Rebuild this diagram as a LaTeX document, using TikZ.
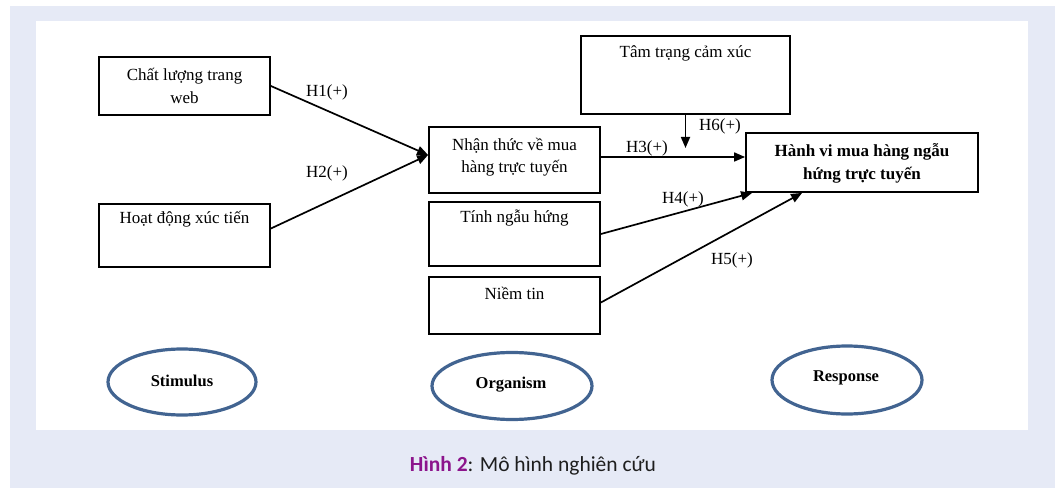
\documentclass[tikz,border=0pt]{standalone}
\usepackage{fontspec}
\setmainfont{Liberation Serif}
\newfontfamily\capfont{Carlito}
\usetikzlibrary{arrows.meta,shapes.geometric}
\definecolor{bgblue}{RGB}{230,234,246}
\definecolor{ellblue}{RGB}{66,100,145}
\definecolor{hpurple}{RGB}{140,20,140}
\definecolor{captxt}{RGB}{30,30,30}
\begin{document}
\begin{tikzpicture}[x=1pt,y=-1pt,
  box/.style={draw=black, line width=1.8pt, inner sep=0pt},
  txt/.style={font=\fontsize{17}{22.5}\selectfont, align=center, inner sep=0pt},
  btxt/.style={font=\fontsize{17}{23}\selectfont\bfseries, align=center, inner sep=0pt},
  lbl/.style={font=\fontsize{17}{20}\selectfont, inner sep=0pt},
  arr/.style={draw=black, line width=1.7pt, -{Triangle[length=11pt,width=9pt]}},
  ell/.style={ellipse, draw=ellblue, line width=3.2pt, inner sep=0pt},
  etxt/.style={font=\fontsize{16.5}{20}\selectfont\bfseries, inner sep=0pt}
]
\useasboundingbox (0,0) rectangle (1058,489);
\fill[white] (0,0) rectangle (1058,489);
\fill[bgblue] (10,6) rectangle (1055,488);
\fill[white] (36,21) rectangle (1028,430);

% boxes
\node[box, minimum width=171pt, minimum height=58pt] (cl) at (184.5,86) {};
\node[box, minimum width=171pt, minimum height=63pt] (hd) at (184.5,235.5) {};
\node[box, minimum width=171pt, minimum height=66pt] (nt) at (514.5,160) {};
\node[box, minimum width=171pt, minimum height=64pt] (tn) at (514.5,234) {};
\node[box, minimum width=171pt, minimum height=57pt] (nin) at (514.5,305.5) {};
\node[box, minimum width=209pt, minimum height=78pt] (tt) at (685.5,75) {};
\node[box, minimum width=232pt, minimum height=59pt] (hv) at (862,162.5) {};

% box texts
\node[txt] (clt) at (184.5,86) {Chất lượng trang\\web};
\node[txt] (hdt) at (184.5,219) {Hoạt động xúc tiến};
\node[txt] (ntt) at (514.5,157) {Nhận thức về mua\\hàng trực tuyến};
\node[txt] (tnt) at (514.5,218) {Tính ngẫu hứng};
\node[txt] (nint) at (514.5,293) {Niềm tin};
\node[txt] (ttt) at (685.5,53) {Tâm trạng cảm xúc};
\node[btxt] (hvt) at (862,163) {Hành vi mua hàng ngẫu\\hứng trực tuyến};

% connectors
\coordinate (h6end) at (685.5,148);
\draw[arr] (cl.east) -- ([yshift=5pt]nt.west);
\draw[arr] ([yshift=7pt]hd.east) -- ([yshift=5pt]nt.west);
\draw[arr] ([yshift=3pt]nt.east) -- ([yshift=3pt]nt.east -| hv.west);
\draw[arr] (tn.east) -- ([xshift=7pt]hv.south west);
\draw[arr] ([yshift=3pt]nin.east) -- ([xshift=57pt]hv.south west);
\draw[arr] (tt.south) -- (h6end);

% labels
\node[lbl] (l1) at (327,92) {H1(+)};
\node[lbl] (l2) at (327,173) {H2(+)};
\node[lbl] (l3) at (647,148) {H3(+)};
\node[lbl] (l6) at (720,126) {H6(+)};
\node[lbl] (l4) at (683,199) {H4(+)};
\node[lbl] (l5) at (732,260) {H5(+)};

% ellipses
\node[ell, minimum width=148pt, minimum height=66pt] (stim) at (182,382) {};
\node[etxt] (stimt) at (182,381) {Stimulus};
\node[ell, minimum width=160pt, minimum height=67pt] (org) at (512,386) {};
\node[etxt] (orgt) at (511,385) {Organism};
\node[ell, minimum width=150pt, minimum height=68pt] (resp) at (847,380) {};
\node[etxt] (respt) at (846,378) {Response};

% caption
\node[font=\capfont\fontsize{21.5}{24}\selectfont, text=captxt, inner sep=0pt] (cap) at (533,466)
  {\textcolor{hpurple}{\bfseries Hình 2}: Mô hình nghiên cứu};
\end{tikzpicture}
\end{document}
